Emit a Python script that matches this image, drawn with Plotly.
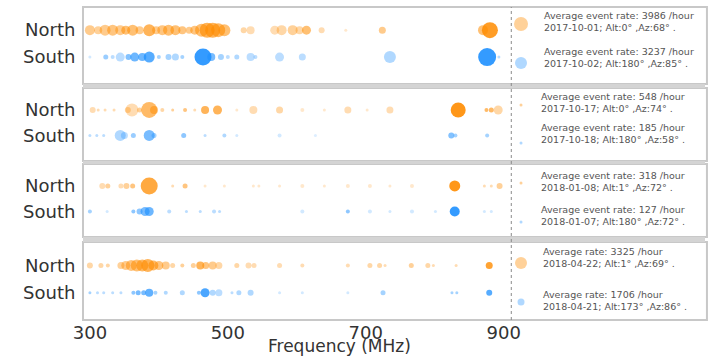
import plotly.graph_objects as go

W, H = 714, 357
ORANGE = "#ff8c00"
BLUE = "#1e90ff"

# ---------------- data (frequency MHz, relative event count -> marker diameter, activity -> alpha)
p1_north_freq = [300, 312, 322, 333, 344, 352, 362, 372, 386, 396, 405, 414, 424, 434, 444, 452,
                 462, 470, 478, 486, 495, 523, 533, 568, 578, 594, 604, 614, 636, 671, 724, 870, 880]
p1_north_cnt = [10, 8, 11, 11, 10, 9, 11, 8, 12, 8, 10, 11, 10, 8, 7, 9,
                13, 15, 15, 14, 12, 6, 8, 9, 10, 10, 8, 9, 6, 3, 7, 10, 16]
p1_north_act = [.45, .4, .45, .5, .45, .55, .55, .45, .65, .45, .5, .55, .55, .5, .45, .5,
                .55, .65, .65, .6, .55, .35, .3, .3, .35, .4, .35, .55, .3, .2, .45, .55, .85]
p1_south_freq = [300, 323, 333, 344, 356, 365, 376, 386, 400, 414, 424, 434, 464, 476, 490, 500,
                 513, 533, 540, 575, 608, 735, 876, 893]
p1_south_cnt = [3, 5, 4, 9, 6, 9, 8, 11, 4, 6, 7, 4, 17, 8, 6, 4, 5, 8, 4, 9, 7, 12, 18, 3]
p1_south_act = [.2, .45, .3, .3, .55, .65, .65, .75, .4, .4, .35, .4, .9, .6, .4, .3,
                .35, .3, .3, .3, .3, .35, .9, .3]

p2_north_freq = [304, 312, 322, 335, 355, 361, 372, 386, 393, 405, 420, 438, 452, 467, 485, 513,
                 537, 575, 608, 640, 674, 702, 735, 834, 875, 882, 892]
p2_north_cnt = [6, 3, 3, 3, 6, 13, 5, 16, 8, 4, 3, 4, 3, 8, 9, 3, 8, 7, 4, 3, 7, 3, 7, 15, 4, 5, 9]
p2_north_act = [.3, .3, .3, .3, .35, .3, .4, .6, .5, .35, .4, .5, .3, .65, .65, .2,
                .3, .35, .2, .2, .3, .2, .3, .9, .6, .6, .35]
p2_south_freq = [300, 310, 320, 344, 350, 363, 386, 393, 436, 467, 495, 513, 575, 627, 824, 830, 876]
p2_south_cnt = [3, 3, 3, 11, 7, 5, 11, 5, 5, 3, 4, 3, 4, 3, 6, 4, 4]
p2_south_act = [.3, .3, .3, .35, .3, .45, .6, .4, .5, .3, .35, .2, .2, .15, .55, .4, .4]

p3_north_freq = [318, 326, 345, 353, 362, 386, 420, 438, 467, 495, 537, 545, 575, 608, 640, 674,
                 706, 735, 767, 829, 872, 882, 894]
p3_north_cnt = [6, 5, 5, 6, 5, 17, 3, 5, 3, 3, 3, 3, 3, 4, 3, 4, 4, 3, 4, 11, 3, 3, 6]
p3_north_act = [.3, .4, .3, .4, .5, .75, .3, .5, .2, .2, .2, .2, .2, .2, .2, .2,
                .2, .2, .2, .9, .3, .3, .4]
p3_south_freq = [300, 325, 363, 372, 380, 386, 415, 440, 460, 480, 488, 608, 674, 706, 735, 767,
                 801, 829, 872, 882]
p3_south_cnt = [4, 3, 4, 6, 9, 9, 4, 3, 3, 4, 3, 4, 4, 4, 3, 4, 3, 10, 3, 3]
p3_south_act = [.4, .2, .5, .5, .6, .65, .3, .3, .3, .3, .3, .2, .5, .2, .2, .2, .2, .9, .2, .2]

p4_north_freq = [300, 316, 326, 345, 352, 360, 368, 376, 384, 392, 400, 410, 420, 434, 450, 460,
                 468, 478, 487, 513, 530, 538, 575, 608, 674, 706, 720, 728, 766, 790, 798, 831, 879]
p4_north_cnt = [6, 5, 4, 7, 9, 11, 12, 12, 13, 10, 9, 8, 5, 4, 5, 8,
                7, 8, 7, 5, 6, 5, 5, 4, 4, 5, 5, 3, 5, 5, 3, 3, 7]
p4_north_act = [.35, .35, .35, .4, .45, .5, .55, .6, .65, .6, .5, .45, .35, .4, .4, .65,
                .5, .45, .35, .35, .3, .3, .3, .3, .3, .35, .35, .3, .4, .35, .3, .3, .8]
p4_south_freq = [300, 311, 320, 333, 345, 363, 370, 378, 386, 395, 410, 434, 458, 467, 478, 487,
                 506, 516, 533, 575, 608, 674, 725, 825, 832, 879]
p4_south_cnt = [3, 3, 3, 3, 3, 4, 5, 5, 8, 4, 4, 5, 4, 9, 6, 7, 3, 5, 6, 3, 3, 3, 5, 3, 3, 6]
p4_south_act = [.4, .3, .3, .3, .3, .5, .6, .6, .7, .4, .35, .35, .5, .8, .35, .3,
                .3, .35, .35, .2, .2, .2, .4, .4, .4, .75]

# legend information
rate_north = [3986, 548, 318, 3325]
rate_south = [3237, 185, 127, 1706]
date_north = ["2017-10-01", "2017-10-17", "2018-01-08", "2018-04-22"]
date_south = ["2017-10-02", "2017-10-18", "2018-01-07", "2018-04-21"]
alt_north = [0, 0, 1, 1]
az_north = [68, 74, 72, 69]
alt_south = [180, 180, 180, 173]
az_south = [85, 58, 72, 86]
rate_label = ["Average event rate", "Average event rate", "Average event rate", "Average rate"]
legend_cnt_north = [14, 3, 3, 12]
legend_cnt_south = [12, 3, 3, 7]

tick_freqs = [300, 500, 700, 900]
row_names = ["North", "South"]

series = [
    (p1_north_freq, p1_north_cnt, p1_north_act, p1_south_freq, p1_south_cnt, p1_south_act),
    (p2_north_freq, p2_north_cnt, p2_north_act, p2_south_freq, p2_south_cnt, p2_south_act),
    (p3_north_freq, p3_north_cnt, p3_north_act, p3_south_freq, p3_south_cnt, p3_south_act),
    (p4_north_freq, p4_north_cnt, p4_north_act, p4_south_freq, p4_south_cnt, p4_south_act),
]

# ---------------- layout geometry (pixels)
panel_px = [(7, 84), (88, 161), (164, 237), (242, 320)]
X0, XM = 75, 515
# (marker y, text centre y) for north and south legend entries
legend_px = [((24, 21), (63, 57.5)),
             ((105, 103), (143, 133.5)),
             ((183, 181), (222, 215)),
             ((263, 257.5), (302, 300))]
legend_text_x = [547, 543, 543, 546]
LEG_MARK_X = 525


def py(p):
    return 1 - p / H


def px(p):
    return p / W


fig = go.Figure()
layout = dict(
    width=W, height=H, margin=dict(l=0, r=0, t=0, b=0),
    paper_bgcolor="white", plot_bgcolor="white", showlegend=False,
    font=dict(family="DejaVu Sans", color="#333333"),
)
layout["xaxis"] = dict(domain=[px(X0), px(XM)], range=[290, 911], anchor="y4",
                       tickvals=tick_freqs, ticktext=[str(v) for v in tick_freqs],
                       tickfont=dict(size=18, color="#333"), showgrid=False, zeroline=False,
                       showline=False, ticks="", ticklen=0)
# overlay axis for legend swatches (pixel units)
layout["xaxis2"] = dict(domain=[px(XM), 1], range=[XM, W], visible=False, anchor="y5")
layout["yaxis5"] = dict(domain=[0, 1], range=[H, 0], visible=False, anchor="x2")

shapes = []
annotations = []
for i, (top, bot) in enumerate(panel_px):
    yname = "yaxis" + ("" if i == 0 else str(i + 1))
    layout[yname] = dict(domain=[py(bot), py(top)], range=[-1.0, 1.86], anchor="x",
                         tickvals=[1, 0], ticktext=row_names, tickfont=dict(size=18, color="#333"),
                         showgrid=False, zeroline=False, showline=False,
                         ticks="outside", ticklen=3, tickcolor="rgba(0,0,0,0)")
    nf, nc, na, sf, sc, sa = series[i]
    yref = "y" + ("" if i == 0 else str(i + 1))
    fig.add_trace(go.Scatter(x=nf, y=[1] * len(nf), mode="markers", xaxis="x", yaxis=yref,
                             marker=dict(color=ORANGE, size=nc, opacity=na, line=dict(width=0))))
    fig.add_trace(go.Scatter(x=sf, y=[0] * len(sf), mode="markers", xaxis="x", yaxis=yref,
                             marker=dict(color=BLUE, size=sc, opacity=sa, line=dict(width=0))))
    # panel frame
    shapes.append(dict(type="rect", xref="paper", yref="paper", x0=px(X0), x1=px(W + 2),
                       y0=py(bot), y1=py(top), line=dict(color="#c8c8c8", width=2),
                       layer="below"))
    # legend swatches
    (mn, tn), (ms, ts) = legend_px[i]
    fig.add_trace(go.Scatter(x=[LEG_MARK_X], y=[mn], mode="markers", xaxis="x2", yaxis="y5",
                             marker=dict(color=ORANGE, size=legend_cnt_north[i], opacity=0.4,
                                         line=dict(width=0))))
    fig.add_trace(go.Scatter(x=[LEG_MARK_X], y=[ms], mode="markers", xaxis="x2", yaxis="y5",
                             marker=dict(color=BLUE, size=legend_cnt_south[i], opacity=0.35,
                                         line=dict(width=0))))
    items = [
        (tn, f"{rate_label[i]}: {rate_north[i]} /hour<br>"
             f"{date_north[i]}; Alt:{alt_north[i]}° ,Az:{az_north[i]}° ."),
        (ts, f"{rate_label[i]}: {rate_south[i]} /hour<br>"
             f"{date_south[i]}; Alt:{alt_south[i]}° ,Az:{az_south[i]}° ."),
    ]
    for yy, txt in items:
        annotations.append(dict(xref="paper", yref="paper", x=px(legend_text_x[i]), y=py(yy),
                                xanchor="left", yanchor="middle", align="left", showarrow=False,
                                text=txt, font=dict(size=9.5, color="#555555")))

# grey bands between panels
for a, b in zip(panel_px[:-1], panel_px[1:]):
    shapes.append(dict(type="rect", xref="paper", yref="paper", x0=px(X0), x1=1,
                       y0=py(b[0]), y1=py(a[1]), fillcolor="#d4d4d4", line=dict(width=0),
                       layer="below"))
# vertical divider
shapes.append(dict(type="line", xref="paper", yref="paper", x0=px(XM), x1=px(XM),
                   y0=py(panel_px[-1][1]), y1=py(panel_px[0][0]),
                   line=dict(color="#8a8a8a", width=1, dash="dot")))

annotations.append(dict(xref="paper", yref="paper", x=px(339), y=0, xanchor="center",
                        yanchor="bottom", showarrow=False, text="Frequency (MHz)",
                        borderpad=0, font=dict(size=17, color="#333333")))

layout["shapes"] = shapes
layout["annotations"] = annotations
fig.update_layout(**layout)
fig.write_html("out.html")
